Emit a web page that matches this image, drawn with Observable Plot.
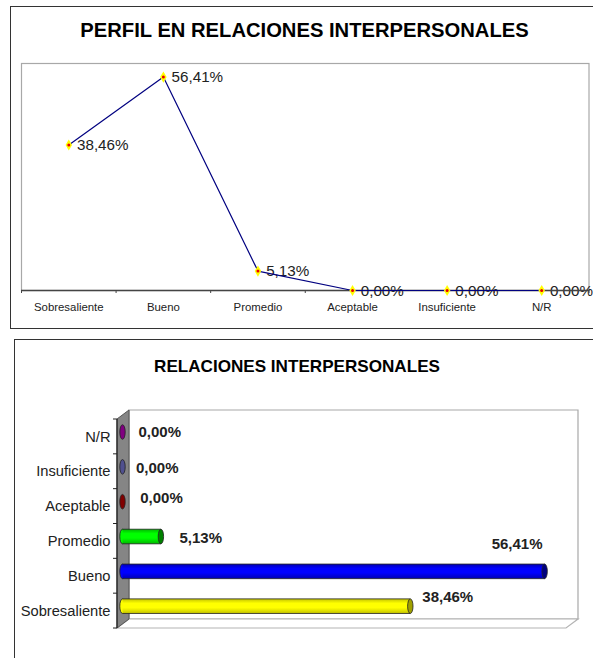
<!DOCTYPE html>
<html lang="es">
<head>
<meta charset="utf-8">
<script src="https://cdn.jsdelivr.net/npm/d3@7"></script>
<script src="https://cdn.jsdelivr.net/npm/@observablehq/plot@0.6"></script>
<style>
html,body{margin:0;padding:0;background:#fff;overflow:hidden;width:593px;height:658px;font-family:"Liberation Sans",Arial,sans-serif}
.panel{position:absolute;border:1.5px solid #333;box-sizing:border-box}
.title{position:absolute;font-weight:bold;color:#000;white-space:nowrap;transform:translate(-50%,-50%)}
.chart{position:absolute;left:0}
svg{display:block}
</style>
</head>
<body>
<div class="panel" style="left:10px;top:6px;width:640px;height:323px"></div>
<div class="panel" style="left:14px;top:339px;width:640px;height:340px"></div>
<div class="title" style="left:304.5px;top:30px;font-size:20.2px">PERFIL EN RELACIONES INTERPERSONALES</div>
<div class="title" style="left:297px;top:367px;font-size:17.1px">RELACIONES INTERPERSONALES</div>
<div id="top" class="chart" style="top:0"></div>
<div id="bottom" class="chart" style="top:330px"></div>
<script>
const categories = ["Sobresaliente", "Bueno", "Promedio", "Aceptable", "Insuficiente", "N/R"];
const values = [38.46, 56.41, 5.13, 0, 0, 0];
const labels = ["38,46%", "56,41%", "5,13%", "0,00%", "0,00%", "0,00%"];
const barColors = ["#ffff00", "#0000ff", "#00ff00", "#800000", "#50508f", "#800080"];
const capColors = ["#a0a000", "#000080", "#008000", "#800000", "#50508f", "#800080"];
const barDark = ["#c4c400", "#0000b0", "#00b800", "#600000", "#3a3a70", "#600060"];

const rows = categories.map((category, i) => ({i, category, value: values[i], label: labels[i]}));
const indices = categories.map((_, i) => i);
const edges = [...indices.map(i => i - 0.5), categories.length - 0.5];
const fontFamily = '"Liberation Sans",Arial,sans-serif';

const topChart = Plot.plot({
  width: 593, height: 330,
  marginLeft: 21, marginRight: 4.5, marginTop: 63, marginBottom: 40,
  style: {background: "none", fontFamily, color: "#222"},
  x: {domain: [-0.5, 5.5]},
  y: {domain: [0, 60], axis: null},
  marks: [
    Plot.frame({stroke: "#a8a8a8", strokeWidth: 1.2}),
    Plot.text(rows, {x: "i", y: "value", text: "label", textAnchor: "start", dx: 8.2, dy: 0.5, fontSize: 15.2, fill: "#222"}),
    Plot.ruleY([0], {stroke: "#444", strokeWidth: 1.5}),
    Plot.axisX({ticks: edges, tickFormat: () => "", tickSize: 3, stroke: "#444", label: null}),
    Plot.axisX({ticks: indices, tickFormat: i => categories[i], tickSize: 0, tickPadding: 12, fontSize: 11.4, fill: "#222", label: null}),
    Plot.line(rows, {x: "i", y: "value", stroke: "#000080", strokeWidth: 1.2}),
    Plot.dot(rows, {x: "i", y: "value", symbol: "diamond", r: 3.4, fill: "#ffff00", stroke: "none"}),
    Plot.dot(rows, {x: "i", y: "value", r: 1.5, fill: "#e80000", stroke: "none"})
  ]
});
document.getElementById("top").append(topChart);

// 3D box depth of the lower chart, and offset of the cylinders inside it
const depthX = 12, depthY = 9, barDx = 5.5, barDy = -4.4;
const capRx = 2.7, capRy = 7.3;
const labelDx = [17, -48, 23.6, 22.7, 18.5, 21];
const labelDy = [-13.4, -31.6, -2.8, -8, -3.2, -4.4];

function gradients() {
  const defs = d3.create("svg:defs");
  categories.forEach((_, i) => {
    const g = defs.append("linearGradient").attr("id", "cyl" + i).attr("x1", 0).attr("x2", 0).attr("y1", 0).attr("y2", 1);
    g.append("stop").attr("offset", "0%").attr("stop-color", barDark[i]);
    g.append("stop").attr("offset", "30%").attr("stop-color", barColors[i]);
    g.append("stop").attr("offset", "60%").attr("stop-color", barColors[i]);
    g.append("stop").attr("offset", "100%").attr("stop-color", barDark[i]);
  });
  return defs.node();
}

function box(index, scales, values_, dims) {
  const x0 = scales.x(0), x1 = scales.x(60);
  const yT = dims.marginTop, yB = dims.height - dims.marginBottom;
  const g = d3.create("svg:g");
  const poly = (pts, fill, stroke, w) => g.append("polygon").attr("points", pts.map(p => p.join(",")).join(" ")).attr("fill", fill).attr("stroke", stroke).attr("stroke-width", w);
  poly([[x0 + depthX, yT - depthY], [x1 + depthX, yT - depthY], [x1 + depthX, yB - depthY], [x0 + depthX, yB - depthY]], "#fff", "#a8a8a8", 1.2);
  poly([[x0, yB], [x0 + depthX, yB - depthY], [x1 + depthX, yB - depthY], [x1, yB]], "#fff", "#b4b4b4", 1.2);
  poly([[x0, yT], [x0 + depthX, yT - depthY], [x0 + depthX, yB - depthY], [x0, yB]], "#858585", "#555", 1);
  g.append("line").attr("x1", x0).attr("x2", x0).attr("y1", yT).attr("y2", yB).attr("stroke", "#222").attr("stroke-width", 1.2);
  const step = (yB - yT) / categories.length;
  d3.range(categories.length + 1).forEach(k => {
    g.append("line").attr("x1", x0 - 4).attr("x2", x0).attr("y1", yT + k * step).attr("y2", yT + k * step).attr("stroke", "#222").attr("stroke-width", 1);
  });
  return g.node();
}

// Rounded start of each cylinder, drawn under its body
function starts(index, scales, values_, dims) {
  const step = (dims.height - dims.marginBottom - dims.marginTop) / categories.length;
  const g = d3.create("svg:g");
  rows.filter(r => r.value > 0).forEach(r => {
    g.append("ellipse").attr("cx", scales.x(0) + barDx).attr("cy", scales.y(r.category) + step / 2 + barDy)
      .attr("rx", capRx).attr("ry", capRy).attr("fill", barColors[r.i]).attr("stroke", "#222").attr("stroke-width", 0.8);
  });
  return g.node();
}

// Top and bottom outlines of each cylinder, and its darker end face
function ends(index, scales, values_, dims) {
  const step = (dims.height - dims.marginBottom - dims.marginTop) / categories.length;
  const g = d3.create("svg:g");
  rows.forEach(r => {
    const cy = scales.y(r.category) + step / 2 + barDy;
    const xa = scales.x(0) + barDx, xb = scales.x(r.value) + barDx;
    if (r.value > 0) {
      [cy - capRy, cy + capRy].forEach(yy => {
        g.append("line").attr("x1", xa).attr("x2", xb).attr("y1", yy).attr("y2", yy).attr("stroke", "#222").attr("stroke-width", 0.8);
      });
    }
    g.append("ellipse").attr("cx", xb).attr("cy", cy).attr("rx", capRx).attr("ry", capRy)
      .attr("fill", capColors[r.i]).attr("stroke", "#222").attr("stroke-width", 0.8);
  });
  return g.node();
}

const bottomChart = Plot.plot({
  width: 593, height: 328,
  marginLeft: 117, marginRight: 27, marginTop: 89, marginBottom: 30,
  style: {background: "none", fontFamily, color: "#222"},
  x: {domain: [0, 60], axis: null},
  y: {domain: [...categories].reverse(), padding: 0, round: false},
  marks: [
    gradients,
    box,
    Plot.axisY({tickSize: 0, tickPadding: 7, fontSize: 14.7, fill: "#222", label: null}),
    starts,
    ...rows.map(r => Plot.barX([r], {
      x: "value", y: "category", insetTop: 10.1, insetBottom: 10.1, dx: barDx, dy: barDy,
      fill: "url(#cyl" + r.i + ")", stroke: "none"
    })),
    ends,
    ...rows.map(r => Plot.text([r], {
      x: "value", y: "category", text: "label", textAnchor: "start",
      dx: labelDx[r.i], dy: labelDy[r.i], fontSize: 15, fontWeight: "bold", fill: "#222"
    }))
  ]
});
document.getElementById("bottom").append(bottomChart);
</script>
</body>
</html>
